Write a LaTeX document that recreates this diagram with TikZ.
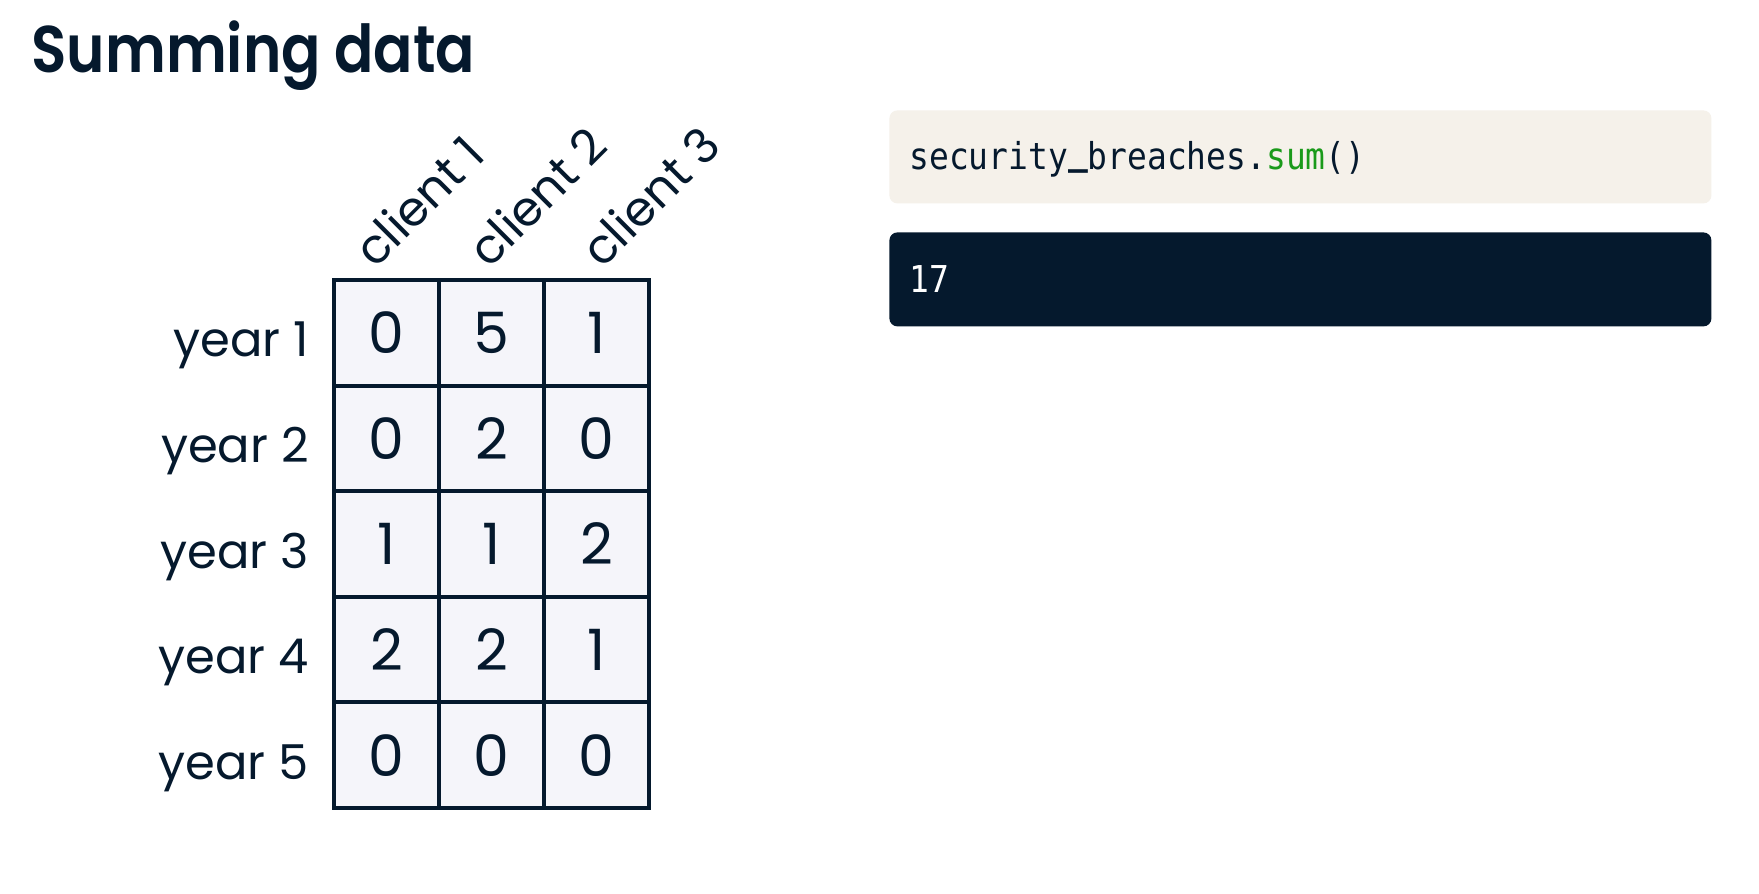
\documentclass[tikz,border=0pt]{standalone}
\usepackage{graphicx}
\usepackage{fontspec}
\setmainfont{Poppins}
\newfontfamily\titlefont[FakeStretch=0.88]{Poppins SemiBold}
\newfontfamily\codefont[FakeStretch=0.89]{DejaVu Sans Mono}
\newcommand{\codeus}{\scalebox{1}[2.5]{\raisebox{0.2em}{\char"5F}}}
\definecolor{navy}{HTML}{05192D}
\definecolor{cellfill}{HTML}{F5F5FA}
\definecolor{beige}{HTML}{F5F1EA}
\definecolor{codegreen}{HTML}{1A9A1A}
\begin{document}
\begin{tikzpicture}[x=0.5pt,y=-0.5pt,
  cell/.style={draw=navy, fill=cellfill, line width=2pt, minimum width=52.5pt, minimum height=52.8pt, inner sep=0pt, text=navy, font=\fontsize{28.5}{30}\selectfont},
  rowlab/.style={anchor=base east, inner sep=0pt, text=navy, font=\fontsize{24}{26}\selectfont},
  collab/.style={anchor=base west, rotate=45, inner sep=0pt, text=navy, font=\fontsize{24}{26}\selectfont},
  codetext/.style={anchor=base west, inner sep=0pt, font=\codefont\fontsize{18.5}{20}\selectfont}
]
\useasboundingbox (0,0) rectangle (1759,893);
\fill[white] (0,0) rectangle (1759,893);
% title
\node[anchor=base west, inner sep=0pt, text=navy, font=\titlefont\fontsize{33}{36}\selectfont] (title) at (31,73) {Summing data};
% grid
\foreach \r/\a/\b/\c in {1/0/5/1, 2/0/2/0, 3/1/1/2, 4/2/2/1, 5/0/0/0}{
  \pgfmathsetmacro{\yc}{280+105.6*(\r-0.5)}
  \node[cell] (c\r1) at (386.5,\yc) {\a};
  \node[cell] (c\r2) at (491.5,\yc) {\b};
  \node[cell] (c\r3) at (596.5,\yc) {\c};
  \node[rowlab] (y\r) at (309,\yc+24) {year \r};
}
\node[collab] (cl1) at (375,270) {client 1};
\node[collab] (cl2) at (489,270) {client 2};
\node[collab] (cl3) at (602,270) {client 3};
% code boxes
\node[fill=beige, rounded corners=4pt, minimum width=411pt, minimum height=46.5pt, inner sep=0pt, anchor=north west] (codebox) at (889,110) {};
\node[codetext, text=navy] (code) at (909,170) {security\codeus breaches.\textcolor{codegreen}{sum}()};
\node[fill=navy, rounded corners=4pt, minimum width=411pt, minimum height=47pt, inner sep=0pt, anchor=north west] (outbox) at (889,232) {};
\node[codetext, text=white] (out) at (909,292) {17};
\end{tikzpicture}
\end{document}
